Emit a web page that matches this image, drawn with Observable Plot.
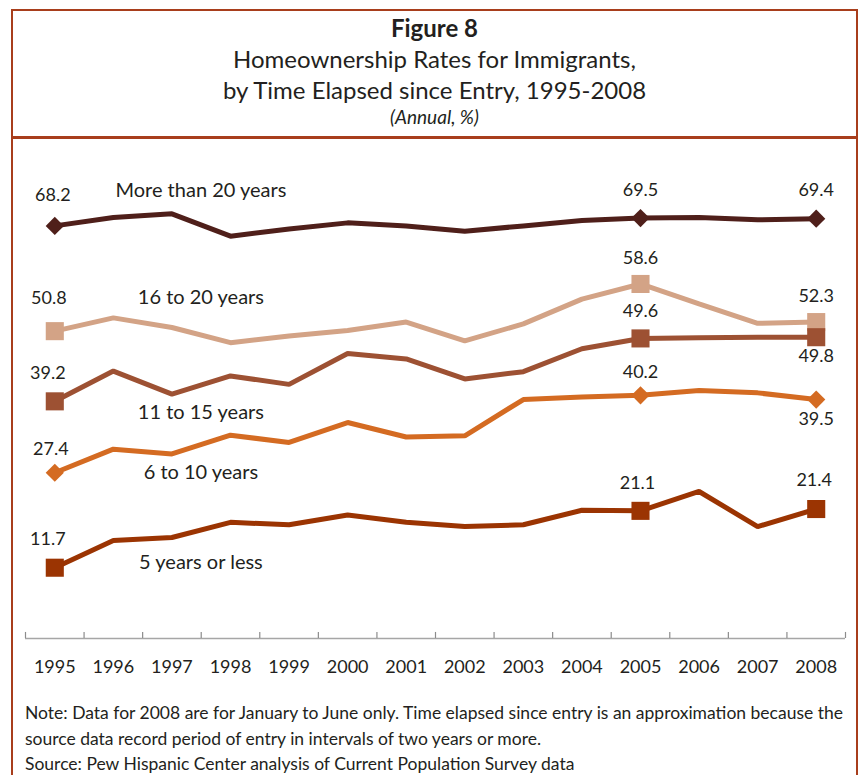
<!DOCTYPE html>
<html>
<head>
<meta charset="utf-8">
<script src="https://cdn.jsdelivr.net/npm/d3@7"></script>
<script src="https://cdn.jsdelivr.net/npm/@observablehq/plot@0.6"></script>
<style>
  html, body { margin: 0; padding: 0; background: #fff; }
  body { width: 860px; height: 775px; position: relative; overflow: hidden; font-family: Lato, "Open Sans", sans-serif; color: #231f20; }
  .frame { position: absolute; left: 11px; top: 9px; width: 847px; height: 820px; border: 2.5px solid #a83e1c; box-sizing: border-box; }
  .sep { position: absolute; left: 11px; top: 136px; width: 847px; height: 2.5px; background: #a83e1c; }
  .t { position: absolute; left: 11px; width: 847px; text-align: center; white-space: nowrap; }
  #chart { position: absolute; left: 0; top: 140px; }
  .note { position: absolute; left: 25px; top: 700px; font-size: 17.5px; line-height: 25.5px; white-space: nowrap; }
</style>
</head>
<body>
<div class="frame"></div>
<div class="sep"></div>
<div class="t" style="top:14px; font-size:24px; line-height:28px; font-weight:bold;">Figure 8</div>
<div class="t" style="top:45px; font-size:24px; line-height:28px;">Homeownership Rates for Immigrants,</div>
<div class="t" style="top:76px; font-size:24px; line-height:28px;">by Time Elapsed since Entry, 1995-2008</div>
<div class="t" style="top:106px; font-size:19px; line-height:22px; font-style:italic;">(Annual, %)</div>
<div id="chart"></div>
<div class="note">Note: Data for 2008 are for January to June only. Time elapsed since entry is an approximation because the<br>source data record period of entry in intervals of two years or more.<br>Source: Pew Hispanic Center analysis of Current Population Survey data</div>
<script>
const years = [1995, 1996, 1997, 1998, 1999, 2000, 2001, 2002, 2003, 2004, 2005, 2006, 2007, 2008];
const seriesNames = ["More than 20 years", "16 to 20 years", "11 to 15 years", "6 to 10 years", "5 years or less"];
const moreThan20 = [68.2, 69.6, 70.2, 66.5, 67.7, 68.7, 68.2, 67.3, 68.2, 69.1, 69.5, 69.6, 69.2, 69.4];
const from16to20 = [50.8, 53.0, 51.4, 48.9, 50.0, 50.9, 52.3, 49.2, 52.0, 56.1, 58.6, 55.3, 52.1, 52.3];
const from11to15 = [39.2, 44.2, 40.4, 43.4, 42.0, 47.1, 46.2, 42.9, 44.1, 47.9, 49.6, 49.7, 49.8, 49.8];
const from6to10  = [27.4, 31.3, 30.5, 33.6, 32.4, 35.7, 33.3, 33.5, 39.5, 39.9, 40.2, 41.0, 40.6, 39.5];
const upTo5      = [11.7, 16.2, 16.7, 19.2, 18.8, 20.4, 19.2, 18.5, 18.8, 21.2, 21.1, 24.3, 18.5, 21.4];
const labelledYears = [1995, 2005, 2008];

const seriesValues = [moreThan20, from16to20, from11to15, from6to10, upTo5];
const colors = ["#4f1f1a", "#d3a386", "#9d5133", "#d46b22", "#9b3402"];
const symbols = ["diamond2", "square", "square", "diamond2", "square"];
const markerR = [8.2, 10.2, 10.2, 8.2, 10.2];

const data = seriesNames.flatMap((s, i) => years.map((yr, j) => ({series: s, year: yr, value: seriesValues[i][j]})));

// label offsets (style only)
const seriesLabelDy = [-23, -30, 19, 19, 25];
const valueLabelOffsets = [
  [[-2, -31], [0, -28], [0, -28]],
  [[-6, -33], [0, -26], [0, -26]],
  [[-7, -28], [0, -27], [0, 19]],
  [[-4, -23], [0, -23], [0, 20]],
  [[-7, -28], [-3, -28], [-2, -29]]
];

const boundaries = years.map(y => y - 0.5).concat([years[years.length - 1] + 0.5]);

const marks = [
  Plot.ruleY([0], {stroke: "#a6a6a6", strokeWidth: 1.5}),
  Plot.ruleX(boundaries, {y1: 0, y2: 1, stroke: "#8c8c8c", strokeWidth: 1.2}),
  Plot.line(data, {x: "year", y: "value", z: "series", stroke: "series", strokeWidth: 5, strokeLinejoin: "miter", strokeLinecap: "butt"})
];

seriesNames.forEach((s, i) => {
  const sd = data.filter(d => d.series === s && labelledYears.includes(d.year));
  marks.push(Plot.dot(sd, {x: "year", y: "value", fill: colors[i], stroke: "none", symbol: symbols[i], r: markerR[i]}));
});

seriesNames.forEach((s, i) => {
  labelledYears.forEach((yr, k) => {
    const d = data.filter(e => e.series === s && e.year === yr);
    const [dx, dy] = valueLabelOffsets[i][k];
    marks.push(Plot.text(d, {x: "year", y: "value", text: e => e.value.toFixed(1), dx, dy, fontSize: 18, fill: "#231f20"}));
  });
  const ld = data.filter(e => e.series === s && e.year === 1997);
  marks.push(Plot.text(ld, {x: "year", y: "value", text: "series", dx: 29, dy: seriesLabelDy[i], fontSize: 20, fill: "#231f20"}));
});

const chart = Plot.plot({
  width: 860,
  height: 550,
  marginLeft: 25,
  marginRight: 15,
  marginTop: 14,
  marginBottom: 52,
  style: {fontFamily: "Lato, 'Open Sans', sans-serif", fontSize: "18px", color: "#231f20", background: "transparent", overflow: "visible"},
  x: {domain: [boundaries[0], boundaries[boundaries.length - 1]], ticks: years, tickFormat: d => String(d), tickSize: 0, tickPadding: 22, label: null},
  y: {domain: [0, 80], axis: null},
  color: {domain: seriesNames, range: colors},
  marks
});
document.getElementById("chart").appendChild(chart);
</script>
</body>
</html>
